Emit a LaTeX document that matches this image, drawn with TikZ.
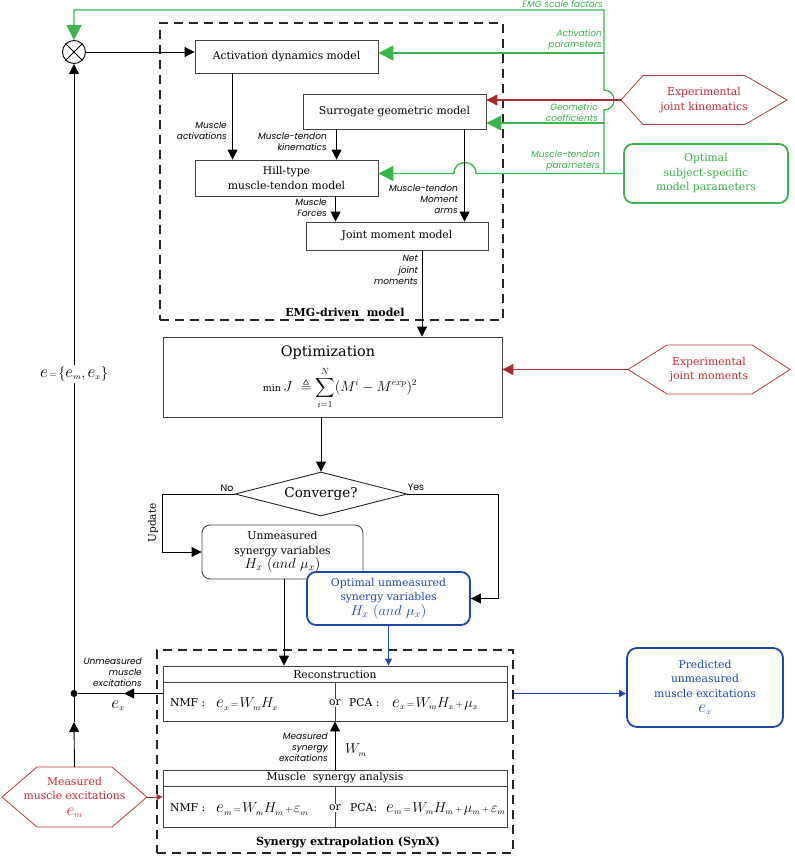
\documentclass[tikz,border=0pt]{standalone}
\usepackage{amsmath,amssymb}
\usepackage{fontspec}
\setmainfont{DejaVu Serif}
\newfontfamily\lblfont{Poppins}
\usetikzlibrary{arrows.meta,shapes.geometric,calc}
\definecolor{cgreen}{RGB}{57,181,74}
\definecolor{cred}{RGB}{200,40,45}
\definecolor{chex}{RGB}{185,60,60}
\definecolor{cdred}{RGB}{165,45,45}
\definecolor{cblue}{RGB}{30,70,175}
\newcommand{\bxf}{\fontsize{10.8}{14.5}\selectfont}
\newcommand{\seq}{\mkern2mu{\scriptstyle =}\mkern2mu}
\newcommand{\spl}{\mkern2mu{\scriptstyle +}\mkern2mu}
\newcommand{\bige}{\mbox{\fontsize{18}{18}\selectfont$e$}}
\newcommand{\sbm}{_{\mbox{\fontsize{8.5}{8.5}\selectfont$m$}}}
\newcommand{\sbx}{_{\mbox{\fontsize{8.5}{8.5}\selectfont$x$}}}
\newcommand{\hexnode}[8]{%
  \draw[draw=chex, line width=0.8pt, fill=white] (#2-#4,#3) -- (#2-#4+#6,#3-#5) -- (#2+#4-#7,#3-#5) -- (#2+#4,#3) -- (#2+#4-#7,#3+#5) -- (#2-#4+#6,#3+#5) -- cycle;
  \node[hextext] (#1) at (#2,#3) {#8};
  \coordinate (#1-w) at (#2-#4,#3);
  \coordinate (#1-e) at (#2+#4,#3);
  \coordinate (#1-n) at (#2,#3-#5);}
\tikzset{
  blk/.style={draw=black!75, line width=0.9pt, fill=white, align=center, font=\bxf, inner sep=1pt},
  hextext/.style={align=center, font=\bxf, text=cred, inner sep=0pt},
  arr/.style={line width=0.9pt, -{Triangle[length=10pt,width=10pt]}},
  ln/.style={line width=0.9pt},
  garr/.style={draw=cgreen, line width=1.3pt, -{Triangle[length=15pt,width=15pt]}},
  rarr/.style={draw=cdred, line width=1.1pt, -{Triangle[length=11pt,width=11pt]}},
  rsarr/.style={draw=cdred, line width=1pt, -{Triangle[length=6pt,width=6pt]}},
  barr/.style={draw=cblue, line width=1.2pt, -{Triangle[length=7pt,width=7pt]}},
  dbox/.style={draw=black!85, line width=1.4pt, dash pattern=on 9pt off 6pt},
  lbl/.style={font=\lblfont\itshape\fontsize{9}{11.2}\selectfont, align=right, inner sep=0pt, anchor=east},
  glbl/.style={lbl, text=cgreen},
  mth/.style={font=\fontsize{13.5}{16}\selectfont, inner sep=0pt, anchor=west},
  txt/.style={font=\bxf, inner sep=0pt, anchor=west}
}
\begin{document}
\begin{tikzpicture}[x=1pt,y=-1pt]
\useasboundingbox (0,0) rectangle (795,857);
% dashed containers
\node[dbox, minimum width=343pt, minimum height=297pt, inner sep=0pt] (emg) at (331.5,171.5) {};
\node[dbox, minimum width=356pt, minimum height=203pt, inner sep=0pt] (synx) at (335,751.5) {};
\node[font=\bfseries\fontsize{11}{12}\selectfont] (emgl) at (345,312) {EMG-driven\ \ model};
\node[font=\bfseries\fontsize{11.2}{12}\selectfont] (synxl) at (348,842) {Synergy extrapolation (SynX)};

% summing junction
\node[draw, circle, line width=0.9pt, minimum size=23pt, inner sep=0pt, fill=white] (sumj) at (74,52) {};
\draw[line width=0.9pt] (sumj.north west) -- (sumj.south east) (sumj.north east) -- (sumj.south west);

% EMG-driven model boxes
\node[blk, minimum width=183pt, minimum height=33pt] (act) at (286.5,56.5) {Activation dynamics model};
\node[blk, minimum width=183pt, minimum height=35pt] (surr) at (394.5,111.5) {Surrogate geometric model};
\node[blk, minimum width=183pt, minimum height=36pt] (hill) at (286.5,178) {Hill-type\\muscle-tendon model};
\node[blk, minimum width=182pt, minimum height=28pt] (joint) at (397,236) {Joint moment model};

% external inputs
\hexnode{kin}{704}{100}{83}{24.5}{22}{42}{Experimental\\joint kinematics}
\hexnode{mom}{709}{369.5}{81}{24.5}{39}{38}{Experimental\\joint moments}
\hexnode{meas}{74.5}{797}{72.5}{30}{35}{35}{Measured\\muscle excitations\\[1pt]{\fontsize{13.5}{13}\selectfont$\bige\sbm$}}
\node[blk, draw=cgreen, line width=1.8pt, rounded corners=9pt, text=cgreen, minimum width=164pt, minimum height=59pt] (par) at (706,173.5) {Optimal\\subject-specific\\model parameters};

% optimization and convergence
\node[blk, minimum width=339pt, minimum height=80pt] (opt) at (332.5,377) {};
\node[font=\fontsize{14.4}{16}\selectfont, inner sep=0pt] (optt) at (328,353) {Optimization};
\node[font=\fontsize{13.5}{16}\selectfont, inner sep=0pt] (optf) at (340,388) {$\displaystyle{\scriptstyle\min}\,J\ \triangleq\sum_{i=1}^{N}(M^{i}-M^{exp})^{2}$};
\node[draw=black!85, line width=0.9pt, diamond, aspect=3.9, minimum width=172pt, minimum height=44pt, inner sep=0pt, font=\fontsize{13.5}{14}\selectfont] (conv) at (321,494) {Converge?};
\node[blk, rounded corners=8pt, minimum width=161pt, minimum height=54pt] (unm) at (282.5,552) {Unmeasured\\synergy variables\\{\fontsize{14}{15}\selectfont$H_x\ (\mathnormal{and}\ \mu_x)$}};
\node[blk, draw=cblue, line width=1.8pt, rounded corners=9pt, text=cblue, minimum width=163pt, minimum height=53pt] (optunm) at (388.5,598.5) {Optimal unmeasured\\synergy variables\\{\fontsize{14}{15}\selectfont$H_x\ (\mathnormal{and}\ \mu_x)$}};

% synergy boxes
\node[blk, minimum width=344pt, minimum height=55pt] (recon) at (335,693.5) {};
\node[blk, minimum width=344pt, minimum height=57pt] (msa) at (335,798.5) {};
\draw[ln, black!75] ($(recon.north west)+(0,17)$) -- ($(recon.north east)+(0,17)$);
\draw[ln, black!75] ($(recon.north)+(0,17)$) -- (recon.south);
\draw[ln, black!75] ($(msa.north west)+(0,17)$) -- ($(msa.north east)+(0,17)$);
\draw[ln, black!75] ($(msa.north)+(0,17)$) -- (msa.south);
\node[font=\bxf] (rect) at (335,675) {Reconstruction};
\node[font=\bxf] (msat) at (335,778) {Muscle\ \ synergy analysis};
\node[txt] (rn) at (170,703) {NMF :};
\node[mth] (rnf) at (216,704) {$\bige\sbx\seq W\sbm H\sbx$};
\node[font=\bxf, fill=white, inner sep=1.5pt] (ror) at (335,703) {or};
\node[txt] (rp) at (349,703) {PCA :};
\node[mth] (rpf) at (392,704) {$\bige\sbx\seq W\sbm H\sbx\spl \mu\sbx$};
\node[txt] (mn) at (170,808) {NMF :};
\node[mth] (mnf) at (216,809) {$\bige\sbm\seq W\sbm H\sbm\spl \varepsilon\sbm$};
\node[font=\bxf, fill=white, inner sep=1.5pt] (mor) at (335,808) {or};
\node[txt] (mp) at (350,808) {PCA:};
\node[mth] (mpf) at (386,809) {$\bige\sbm\seq W\sbm H\sbm\spl \mu\sbm\spl\varepsilon\sbm$};

\node[blk, draw=cblue, line width=1.8pt, rounded corners=10pt, text=cblue, minimum width=156pt, minimum height=79pt] (pred) at (705,687.5) {Predicted\\unmeasured\\muscle excitations\\[1pt]{\fontsize{13.5}{13}\selectfont$\bige\sbx$}};

% green parameter lines
\coordinate (gB) at (604,173.5);
\coordinate (gTop) at (604,10);
\coordinate (gA) at (604,53);
\coordinate (gG) at (604,123);
\draw[garr] (gB) -- (604,110) .. controls (617.3,110) and (617.3,90) .. (604,90) -- (gTop) -| (sumj.north);
\draw[garr] (gA) -- (gA -| act.east);
\draw[garr] (gG) -- (gG -| surr.east);
\draw[garr] (par.west) -- (476,173.5) .. controls (476,158.8) and (454,158.8) .. (454,173.5) -- (hill.east |- par.west);
\node[glbl] (l1) at (603,4) {EMG scale factors};
\node[glbl] (l2) at (602,40) {Activation\\parameters};
\node[glbl] (l3) at (598,113) {Geometric\\coefficients};
\node[glbl] (l4) at (600,161) {Muscle-tendon\\parameters};

% red inputs
\draw[rarr] (kin-w) -- (kin-w -| surr.east);
\draw[rarr] (mom-w) -- (mom-w -| opt.east);
\draw[rsarr] (meas-e) -- (meas-e -| msa.west);

% black model connections
\draw[arr] (sumj.east) -- (sumj.east -| act.west);
\coordinate (ma) at ($(act.south west)+(38,0)$);
\draw[arr] (ma) -- (ma |- hill.north);
\coordinate (mk) at ($(surr.south west)+(34,0)$);
\draw[arr] (mk) -- (mk |- hill.north);
\coordinate (mm) at ($(surr.south west)+(162,0)$);
\draw[arr] (mm) -- (mm |- joint.north);
\coordinate (mf) at ($(hill.south west)+(141,0)$);
\draw[arr] (mf) -- (mf |- joint.north);
\coordinate (nj) at ($(joint.south)+(25,0)$);
\draw[arr] (nj) -- (nj |- opt.north);
\node[lbl] (b1) at (227,131) {Muscle\\activations};
\node[lbl] (b2) at (327,142) {Muscle-tendon\\kinematics};
\node[lbl] (b3) at (327,208) {Muscle\\Forces};
\node[lbl] (b4) at (458,199) {Muscle-tendon\\Moment\\arms};
\node[lbl] (b5) at (418,270) {Net\\joint\\moments};

% optimization loop
\draw[arr] (conv.north |- opt.south) -- (conv.north);
\draw[arr] (conv.west) -- ++(-72,0) |- (unm.west);
\draw[arr] (conv.east) -- ++(91,0) |- (optunm.east);
\node[font=\lblfont\fontsize{9.5}{10}\selectfont] (no) at (227,488) {No};
\node[font=\lblfont\fontsize{9.5}{10}\selectfont] (yes) at (416,487) {Yes};
\node[font=\fontsize{10.5}{12}\selectfont, rotate=90] (upd) at (153,523) {Update};
\coordinate (u1) at ($(unm.south)+(1.5,0)$);
\draw[arr] (u1) -- (u1 |- recon.north);
\draw[barr] (optunm.south) -- (optunm.south |- recon.north);

% synergy connections
\draw[arr] (msa.north) -- (recon.south);
\node[lbl] (b6) at (328,747) {Measured\\synergy\\excitations};
\node[mth] (wm) at (345,750) {$W\sbm$};
\draw[barr] (synx.east |- recon.east) -- (pred.west |- recon.east);

% left feedback
\node[circle, fill, inner sep=0pt, minimum size=7pt] (dot) at (74,693.5) {};
\coordinate (ra) at (124,693.5);
\draw[arr] (recon.west) -- (ra);
\draw[ln] (ra) -- (dot);
\node[lbl] (b7) at (142,672) {Unmeasured\\muscle\\excitations};
\node[font=\fontsize{13.5}{13}\selectfont] (exl) at (118,706) {$\bige\sbx$};
\coordinate (ua) at (74,722);
\draw[arr] (meas-n) -- (ua);
\draw[ln] (ua) -- (dot);
\draw[arr] (dot) -- (sumj.south);
\node[fill=white, inner sep=1.5pt, font=\fontsize{13.5}{13}\selectfont] (eset) at (74,374) {$\bige\seq\{\bige\sbm,\bige\sbx\}$};
\end{tikzpicture}
\end{document}
